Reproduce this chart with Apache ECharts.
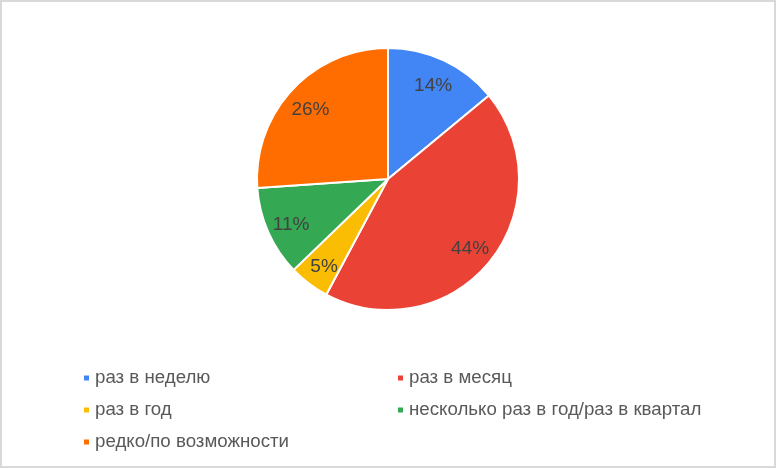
<!DOCTYPE html>
<html><head><meta charset="utf-8">
<script src="https://cdn.jsdelivr.net/npm/echarts@6/dist/echarts.min.js"></script>
<style>
html,body{margin:0;padding:0;background:#fff;}
#c{width:772px;height:464px;border:2px solid #d9d9d9;}
</style></head>
<body><div id="c"></div>
<script>
var categories = ['раз в неделю','раз в месяц','раз в год','несколько раз в год/раз в квартал','редко/по возможности'];
var values = [14, 43.8, 5, 11.1, 26.1];
var colors = ['#4285F4','#EA4335','#FBBC04','#34A853','#FF6D01'];

var data = categories.map(function(c,i){return {name:c, value:values[i], itemStyle:{color:colors[i]}};});
var chart = echarts.init(document.getElementById('c'));
var legendText = {fontFamily:'Liberation Sans, Arial', fontSize:18.7, color:'#595959', lineHeight:20};
chart.setOption({
  animation:false,
  legend:[
    {data:[categories[0],categories[2],categories[4]], orient:'vertical', left:80, top:366, padding:0,
     icon:'rect', itemWidth:7, itemHeight:7, itemGap:12, textStyle:legendText, selectedMode:false},
    {data:[categories[1],categories[3]], orient:'vertical', left:394, top:366, padding:0,
     icon:'rect', itemWidth:7, itemHeight:7, itemGap:12, textStyle:legendText, selectedMode:false}
  ],
  series:[
    {type:'pie', center:[386,177], radius:[0,131], startAngle:90, clockwise:true,
     data:data, label:{show:false}, labelLine:{show:false},
     itemStyle:{borderColor:'#fff', borderWidth:2}, silent:true},
    {type:'pie', center:[386,180], radius:[75,131], startAngle:90, clockwise:true,
     data:categories.map(function(c,i){return {name:c, value:values[i]};}),
     itemStyle:{color:'rgba(0,0,0,0)'}, silent:true, legendHoverLink:false,
     label:{show:true, position:'inside', fontFamily:'Liberation Sans, Arial', fontSize:19, color:'#424242',
       formatter:function(p){return Math.round(p.percent)+'%';}},
     labelLine:{show:false}}
  ]
});
</script></body></html>
